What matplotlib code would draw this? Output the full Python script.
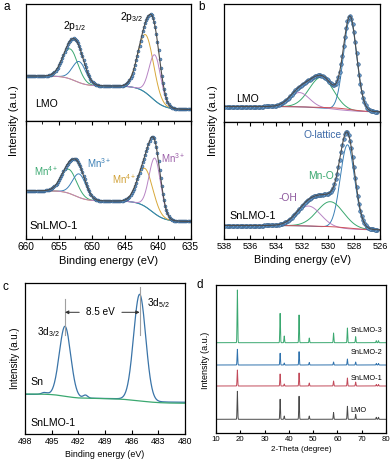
import numpy as np
import matplotlib.pyplot as plt
from matplotlib.ticker import MultipleLocator

plt.rcParams['font.family'] = ['Liberation Sans', 'DejaVu Sans']
plt.rcParams['mathtext.default'] = 'regular'
plt.rcParams['axes.linewidth'] = 0.9

W, H = 392, 466

## ---- panel a : Mn 2p (levels / heights in axis units) ----
mn_levels_lmo = [45, 35, 11.5]
mn_levels_sn = [48.3, 38, 17.5]
mn_steps = [652.5, 640.9]
mn_step_w = [0.9, 1.0]
mn_centers_lmo = [653.3, 651.9, 641.8, 640.4]
mn_heights_lmo = [30, 21, 58, 45.6]
mn_centers_sn = [653.5, 651.9, 641.9, 640.4]
mn_heights_sn = [24, 23.5, 38, 55.5]
mn_fwhm = [2.8, 2.4, 2.8, 2.1]
mn_colors = ['#3aa870', '#3a7fb5', '#d8a83a', '#b784c4']

## ---- panel b : O 1s ----
o_levels_lmo = [15.5, 10]
o_levels_sn = [13.5, 9]
o_steps = [529.5]
o_step_w = [1.0]
o_centers_lmo = [528.3, 530.5, 532.2, 529.0]
o_heights_lmo = [91.4, 30.7, 14.3, 1.5]
o_fwhm_lmo = [1.2, 2.2, 1.8, 2.5]
o_centers_sn = [528.5, 529.8, 531.5, 529.0]
o_heights_sn = [84, 25.7, 20, 1.0]
o_fwhm_sn = [1.3, 2.4, 2.2, 2.5]
o_colors = ['#3a7fb5', '#3aa870', '#b784c4', '#d0505a']

## ---- panel c : Sn 3d ----
sn_levels_sn = [39.7, 35.7, 31.7]
sn_levels_snlmo = [40, 35.5, 30.7]
sn_steps = [493.5, 485.1]
sn_step_w = [0.8, 1.2]
sn_centers = [493.5, 485.1, 491.2, 495.8]
sn_heights = [70, 106, 3, 2]
sn_fwhm = [1.5, 1.6, 0.6, 0.8]

## ---- panel d : XRD ----
xrd_pos = [18.8, 36.4, 38.1, 44.2, 48.4, 58.4, 64.1, 67.5, 76.0, 76.9]
xrd_names = ['LMO', 'SnLMO-1', 'SnLMO-2', 'SnLMO-3']
xrd_offsets = [13.7, 47, 68, 90.3]
xrd_heights = [
    [28, 20, 3.3, 23, 3.3, 6.7, 13, 5, 2, 2],
    [16, 12, 2, 13, 3, 5, 8, 4, 1.5, 1.5],
    [15.7, 11.7, 2, 13.3, 2.5, 3, 6, 3, 1.5, 1.5],
    [52.7, 29.3, 6.7, 27.7, 4.7, 9.7, 14.7, 6, 2, 2],
]
xrd_colors = ['#4a4a4a', '#c24a5a', '#2f72ad', '#3aa870']


def box(x0, y0, x1, y1):
    return [x0 / W, 1 - y1 / H, (x1 - x0) / W, (y1 - y0) / H]


def shirley(e, levels, steps, widths):
    bg = np.full(e.shape, float(levels[-1]))
    for k in range(len(steps)):
        bg += (levels[k] - levels[k + 1]) / (1 + np.exp(-(e - steps[k]) / widths[k]))
    return bg


def peak(e, c, h, fwhm):
    return h * np.exp(-4 * np.log(2) * (e - c) ** 2 / fwhm ** 2)


def xps(ax, e, e_pts, bgpar, centers, heights, fwhms, colors, ms):
    bg = shirley(e, *bgpar)
    for c, h, f, col in zip(centers, heights, fwhms, colors):
        ax.plot(e, bg + peak(e, c, h, f), color=col, lw=0.7)
    bgp = shirley(e_pts, *bgpar)
    env_p = bgp + sum(peak(e_pts, c, h, f) for c, h, f in zip(centers, heights, fwhms))
    ax.plot(e_pts, env_p, 'o', ms=ms, mfc='#6a9ccd', mec='#2f5a86', mew=0.4, ls='none')
    env = bg + sum(peak(e, c, h, f) for c, h, f in zip(centers, heights, fwhms))
    ax.plot(e, env, color='#4d4d4d', lw=0.8)


def plain(ax):
    ax.tick_params(left=False, labelleft=False, bottom=False, labelbottom=False)


fig = plt.figure(figsize=(W / 100, H / 100), dpi=100)

## ---------------- a ----------------
ea = np.linspace(635, 660, 1200)
pa = np.arange(635.1, 660, 0.17)
a1 = fig.add_axes(box(26, 4, 190.5, 121))
a2 = fig.add_axes(box(26, 121, 190.5, 239))
xps(a1, ea, pa, (mn_levels_lmo, mn_steps, mn_step_w), mn_centers_lmo, mn_heights_lmo,
    mn_fwhm, mn_colors, 2.1)
xps(a2, ea, pa, (mn_levels_sn, mn_steps, mn_step_w), mn_centers_sn, mn_heights_sn,
    mn_fwhm, mn_colors, 2.1)
for ax, top in ((a1, 117), (a2, 118)):
    ax.set_xlim(660, 635)
    ax.set_ylim(0, top)
plain(a1)
a2.tick_params(left=False, labelleft=False)
a2.xaxis.set_major_locator(MultipleLocator(5))
a2.xaxis.set_minor_locator(MultipleLocator(2.5))
a2.tick_params(axis='x', which='both', direction='in', top=True, labelsize=7.3, pad=2)
a2.tick_params(axis='x', which='major', length=3)
a2.tick_params(axis='x', which='minor', length=2)
a2.set_xlabel('Binding energy (eV)', fontsize=8, labelpad=3)
a1.text(658.6, 14, 'LMO', fontsize=7.6)
a1.text(652.6, 92, '2p$_{1/2}$', fontsize=7.4, ha='center')
a1.text(644.0, 101, '2p$_{3/2}$', fontsize=7.4, ha='center')
a2.text(659.4, 10, 'SnLMO-1', fontsize=8.2)
a2.text(657.0, 63, 'Mn$^{4+}$', fontsize=7, color='#3aa870', ha='center')
a2.text(648.9, 71, 'Mn$^{3+}$', fontsize=7, color='#3a7fb5', ha='center')
a2.text(645.0, 55, 'Mn$^{4+}$', fontsize=7, color='#d0a035', ha='center')
a2.text(637.6, 76, 'Mn$^{3+}$', fontsize=7, color='#9b5ea8', ha='center')

## ---------------- b ----------------
eb = np.linspace(526, 538, 800)
pb = np.arange(526.2, 538, 0.1)
b1 = fig.add_axes(box(224, 4, 380, 122))
b2 = fig.add_axes(box(224, 122, 380, 239))
xps(b1, eb, pb, (o_levels_lmo, o_steps, o_step_w), o_centers_lmo, o_heights_lmo,
    o_fwhm_lmo, o_colors, 2.6)
xps(b2, eb, pb, (o_levels_sn, o_steps, o_step_w), o_centers_sn, o_heights_sn,
    o_fwhm_sn, o_colors, 2.6)
for ax, top in ((b1, 118), (b2, 117)):
    ax.set_xlim(538, 526)
    ax.set_ylim(0, top)
plain(b1)
b2.tick_params(left=False, labelleft=False)
b2.xaxis.set_major_locator(MultipleLocator(2))
b2.xaxis.set_minor_locator(MultipleLocator(1))
b2.tick_params(axis='x', which='both', direction='in', top=True, labelsize=6.6, pad=2)
b2.tick_params(axis='x', which='major', length=3)
b2.tick_params(axis='x', which='minor', length=2)
b2.set_xlabel('Binding energy (eV)', fontsize=7.8, labelpad=3)
b1.text(537.1, 20, 'LMO', fontsize=7.6)
b2.text(537.6, 20, 'SnLMO-1', fontsize=7.8)
b2.text(530.4, 101, 'O-lattice', fontsize=7.4, color='#3d6aa8', ha='center')
b2.text(530.5, 60, 'Mn-O', fontsize=7.4, color='#3aa870', ha='center')
b2.text(533.1, 38, '-OH', fontsize=7.4, color='#8e5a9e', ha='center')

fig.text(14 / W, 1 - 121 / H, 'Intensity (a.u.)', rotation=90, fontsize=8,
         ha='center', va='center')
fig.text(213 / W, 1 - 121 / H, 'Intensity (a.u.)', rotation=90, fontsize=8,
         ha='center', va='center')

## ---------------- c ----------------
ec = np.linspace(480, 498, 1000)
c1 = fig.add_axes(box(25, 283, 185, 434))
bg_sn = shirley(ec, sn_levels_sn, sn_steps, sn_step_w)
spec_sn = bg_sn + sum(peak(ec, c, h, f) for c, h, f in zip(sn_centers, sn_heights, sn_fwhm))
c1.plot(ec, spec_sn, color='#3a74a8', lw=0.9)
c1.plot(ec, shirley(ec, sn_levels_snlmo, sn_steps, sn_step_w), color='#3aa870', lw=0.9)
c1.set_xlim(498, 480)
c1.set_ylim(0, 151)
c1.tick_params(left=False, labelleft=False)
c1.set_xticks(np.arange(498, 479, -3))
c1.tick_params(axis='x', direction='in', length=3, labelsize=6.2, pad=2)
c1.set_xlabel('Binding energy (eV)', fontsize=6.4, labelpad=3)
c1.plot([sn_centers[0], sn_centers[0]], [99, 135], color='#a0a0a0', lw=0.8)
c1.plot([sn_centers[1], sn_centers[1]], [99, 147], color='#a0a0a0', lw=0.8)
arrow = dict(arrowstyle='-|>', mutation_scale=5, lw=0.7, color='#333333',
             shrinkA=0, shrinkB=0)
c1.annotate('', xy=(sn_centers[0], 121.7), xytext=(491.9, 121.7), arrowprops=arrow)
c1.annotate('', xy=(sn_centers[1], 121.7), xytext=(487.1, 121.7), arrowprops=arrow)
c1.text(489.5, 121.7, '8.5 eV', fontsize=7.2, ha='center', va='center')
c1.text(484.3, 131, '3d$_{5/2}$', fontsize=7.2, va='center')
c1.text(496.6, 102, '3d$_{3/2}$', fontsize=7.2, va='center')
c1.text(497.4, 52, 'Sn', fontsize=7.6, va='center')
c1.text(497.4, 11, 'SnLMO-1', fontsize=7.6, va='center')
fig.text(15 / W, 1 - 358 / H, 'Intensity (a.u.)', rotation=90, fontsize=7,
         ha='center', va='center')

## ---------------- d ----------------
tt = np.arange(10, 80, 0.02)
d1 = fig.add_axes(box(216, 285, 386, 433))
for name, off, hts, col in zip(xrd_names, xrd_offsets, xrd_heights, xrd_colors):
    y = off + sum(peak(tt, p, h, 0.3) for p, h in zip(xrd_pos, hts))
    d1.plot(tt, y, color=col, lw=0.7)
d1.set_xlim(10, 80)
d1.set_ylim(0, 148)
d1.tick_params(left=False, labelleft=False)
d1.set_xticks(np.arange(10, 81, 10))
d1.tick_params(axis='x', direction='in', length=2.5, labelsize=5.6, pad=2)
d1.set_xlabel('2-Theta (degree)', fontsize=5.8, labelpad=2)
label_y = [23, 55, 80, 102.3]
for name, ly in zip(xrd_names, label_y):
    d1.text(65.3, ly, name, fontsize=5.3, va='center')
fig.text(205 / W, 1 - 360 / H, 'Intensity (a.u.)', rotation=90, fontsize=6.5,
         ha='center', va='center')

## panel letters
for lx, ly, s in ((7, 7, 'a'), (202, 7, 'b'), (5, 287, 'c'), (200, 285, 'd')):
    fig.text(lx / W, 1 - ly / H, s, fontsize=8.5, ha='center', va='center')

fig.savefig('out.png', dpi=100)
